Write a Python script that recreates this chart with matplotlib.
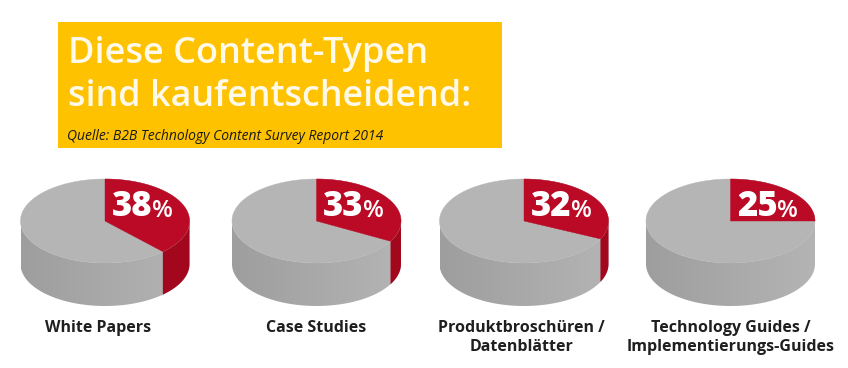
import numpy as np
import matplotlib
matplotlib.use("Agg")
import matplotlib.pyplot as plt
from matplotlib.patches import Polygon, Rectangle

plt.rcParams['font.family'] = ['Open Sans', 'DejaVu Sans']

categories = ["White Papers", "Case Studies", "Produktbroschüren /\nDatenblätter",
              "Technology Guides /\nImplementierungs-Guides"]
values = [38, 33, 32, 25]
title_lines = ["Diese Content-Typen", "sind kaufentscheidend:"]
source = "Quelle: B2B Technology Content Survey Report 2014"

centers_x = [105, 316.5, 524, 730.5]
label_x = [98.5, 316, 521.5, 731]
RX, RY, DEPTH, CY = 84.5, 42, 43, 221
RED, RED_SIDE, GREY = "#bb0a25", "#a3071e", "#b5b5b5"

fig = plt.figure(figsize=(8.48, 3.68), dpi=100)
ax = fig.add_axes([0, 0, 1, 1])
ax.set_xlim(0, 848)
ax.set_ylim(368, 0)
ax.axis("off")

ax.add_patch(Rectangle((58, 22), 443.5, 125.5, fc="#fec200", ec="none"))
ax.text(68, 62.5, title_lines[0], color="#fff9ea", fontsize=26, weight=600, va="baseline", ha="left")
ax.text(68, 106, title_lines[1], color="#fff9ea", fontsize=25.8, weight=600, va="baseline", ha="left")
ax.text(67, 140, source, color="#1a1a1a", fontsize=10, style="italic", va="baseline", ha="left")


def pt(cx, a, dy=0):
    return cx + RX * np.sin(a), CY + dy - RY * np.cos(a)


def side_path(cx, a0, a1):
    t = np.linspace(a0, a1, 100)
    xt, yt = pt(cx, t)
    xb, yb = pt(cx, t[::-1], DEPTH)
    return np.r_[np.c_[xt, yt], np.c_[xb, yb]]


shade = np.linspace(0x9e, 0xb4, 256) / 255
grad = np.dstack([shade, shade, shade]).reshape(1, 256, 3)

for cat, v, cx, lx in zip(categories, values, centers_x, label_x):
    end = 2 * np.pi * v / 100
    # grey side wall with a horizontal gradient
    grey_poly = Polygon(side_path(cx, np.pi / 2, 3 * np.pi / 2), fc="none", ec="none")
    ax.add_patch(grey_poly)
    im = ax.imshow(grad, extent=(cx - RX, cx + RX, CY + RY + DEPTH, CY),
                   aspect="auto", interpolation="bilinear", zorder=1)
    im.set_clip_path(grey_poly)
    # red side wall
    if end > np.pi / 2:
        ax.add_patch(Polygon(side_path(cx, np.pi / 2, end), fc=RED_SIDE, ec="none", zorder=2))
    # top face
    t = np.linspace(0, 2 * np.pi, 300)
    ax.add_patch(Polygon(np.c_[pt(cx, t)], fc=GREY, ec=GREY, lw=0.3, zorder=3))
    t = np.linspace(0, end, 120)
    xs, ys = pt(cx, t)
    ax.add_patch(Polygon(np.r_[[[cx, CY]], np.c_[xs, ys]], fc=RED, ec=RED, lw=0.3, zorder=4))
    # value label
    lab = ax.text(cx + 6.5, 216.5, f"{v}", color="white", fontsize=25, weight=800, va="baseline", ha="left", zorder=5)
    fig.canvas.draw()
    x1 = ax.transData.inverted().transform(lab.get_window_extent().get_points())[1, 0]
    ax.text(x1 - 0.5, 217, "%", color="white", fontsize=17.5, weight=600, va="baseline", ha="left", zorder=5)
    # category label
    ax.text(lx, 327.5 if "\n" not in cat else 337.5, cat, color="#1f1f1f", fontsize=11.5, weight=700,
            va="center", ha="center", linespacing=1.33)

ax.set_xlim(0, 848)
ax.set_ylim(368, 0)
fig.savefig("out.png", dpi=100, facecolor="white")
